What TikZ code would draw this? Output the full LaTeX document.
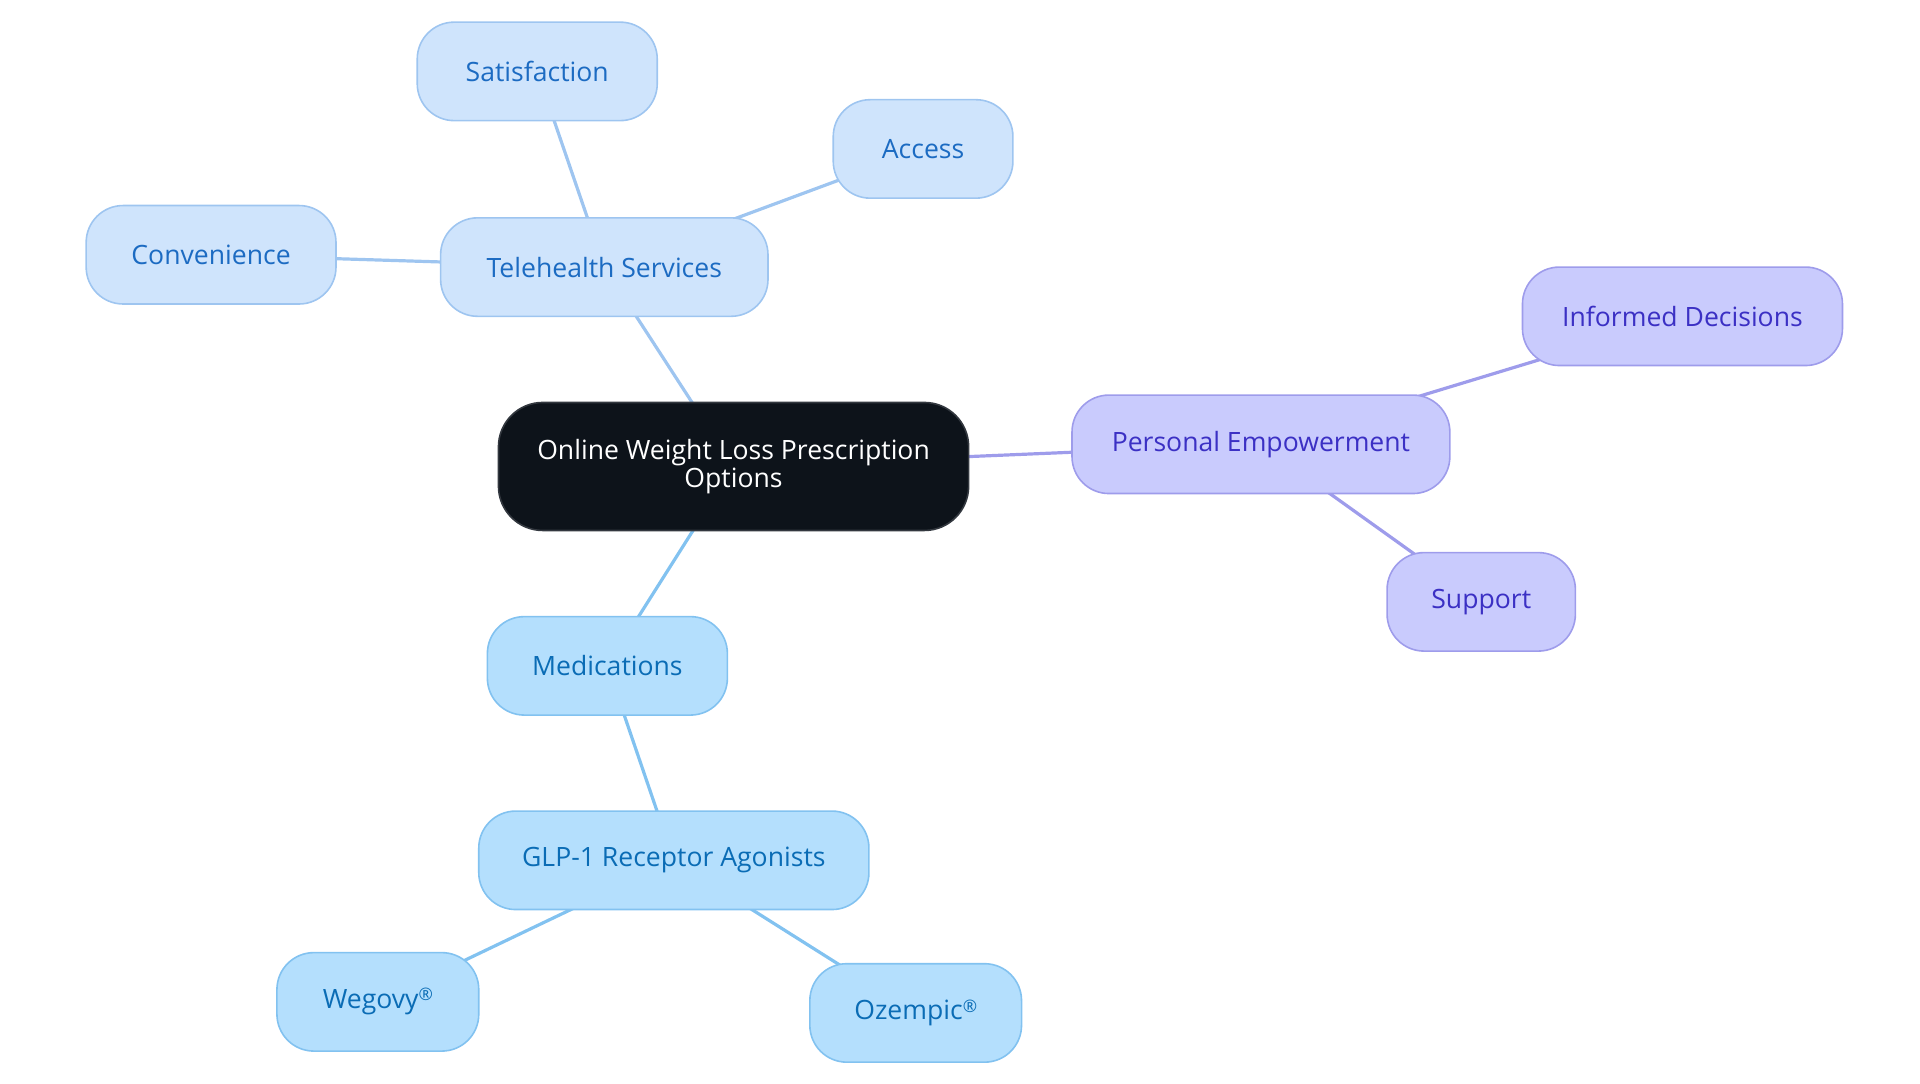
\documentclass[tikz,border=0pt]{standalone}
\usepackage{fontspec}
\setmainfont{Open Sans}
\usetikzlibrary{backgrounds}
\definecolor{tfill}{HTML}{CFE4FC}
\definecolor{tdraw}{HTML}{9EC5F0}
\definecolor{ttext}{HTML}{1C6BC2}
\definecolor{mfill}{HTML}{B4DFFD}
\definecolor{mdraw}{HTML}{82C2F0}
\definecolor{mtext}{HTML}{0A6CB5}
\definecolor{pfill}{HTML}{C9CBFD}
\definecolor{pdraw}{HTML}{9E9CEB}
\definecolor{ptext}{HTML}{3B30C4}
\definecolor{cfill}{HTML}{0D131A}
\definecolor{cdraw}{HTML}{33383F}
\newcommand{\regmark}{\raisebox{0.55ex}{\fontsize{14}{14}\selectfont ®}}
\tikzset{
  box/.style={rectangle, rounded corners=30pt, minimum height=80pt, inner sep=0pt, line width=1.3pt, align=center, font=\fontsize{21.6}{25}\selectfont},
  tbox/.style={box, fill=tfill, draw=tdraw, text=ttext},
  mbox/.style={box, fill=mfill, draw=mdraw, text=mtext},
  pbox/.style={box, fill=pfill, draw=pdraw, text=ptext},
  cbox/.style={box, fill=cfill, draw=cdraw, text=white, minimum height=104pt, rounded corners=36pt},
  tedge/.style={draw=tdraw, line width=2.6pt},
  medge/.style={draw=mdraw, line width=2.6pt},
  pedge/.style={draw=pdraw, line width=2.6pt},
}
\begin{document}
\begin{tikzpicture}[x=1pt,y=-1pt]
\useasboundingbox (0,0) rectangle (1560,880);
\node[cbox, minimum width=382pt] (c) at (596,379) {Online Weight Loss Prescription\\[-2pt]Options};
\node[tbox, minimum width=266pt] (tel) at (491,217) {Telehealth Services};
\node[tbox, minimum width=195pt] (sat) at (436.5,58) {Satisfaction};
\node[tbox, minimum width=146pt] (acc) at (750,121) {Access};
\node[tbox, minimum width=203pt] (con) at (171.5,207) {Convenience};
\node[pbox, minimum width=307pt] (pe) at (1024.5,361) {Personal Empowerment};
\node[pbox, minimum width=260pt] (inf) at (1367,257) {Informed Decisions};
\node[pbox, minimum width=153pt] (sup) at (1203.5,489) {Support};
\node[mbox, minimum width=195pt] (med) at (493.5,541) {Medications};
\node[mbox, minimum width=317pt] (glp) at (547.5,699) {GLP-1 Receptor Agonists};
\node[mbox, minimum width=164pt] (weg) at (307,814) {Wegovy\regmark};
\node[mbox, minimum width=172pt] (oze) at (744,823) {Ozempic\regmark};
\begin{scope}[on background layer]
\draw[tedge] (c.center) -- (tel.center);
\draw[tedge] (tel.center) -- (sat.center);
\draw[tedge] (tel.center) -- (acc.center);
\draw[tedge] (tel.center) -- (con.center);
\draw[pedge] (c.center) -- (pe.center);
\draw[pedge] (pe.center) -- (inf.center);
\draw[pedge] (pe.center) -- (sup.center);
\draw[medge] (c.center) -- (med.center);
\draw[medge] (med.center) -- (glp.center);
\draw[medge] (glp.center) -- (weg.center);
\draw[medge] (glp.center) -- (oze.center);
\end{scope}
\end{tikzpicture}
\end{document}
